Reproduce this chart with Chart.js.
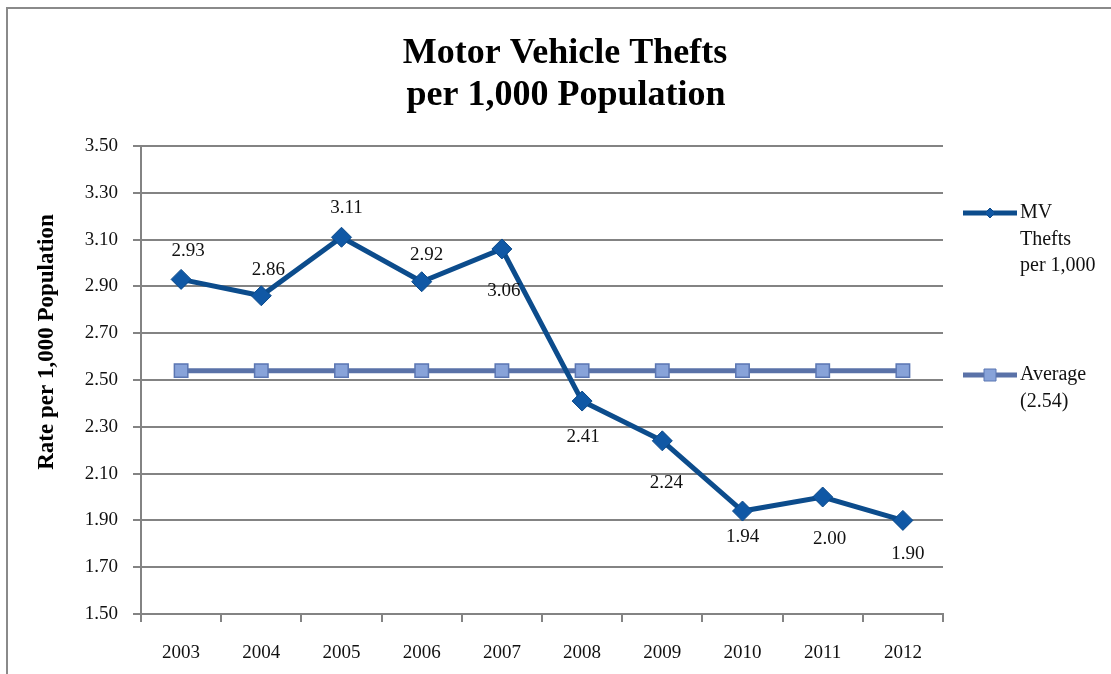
<!DOCTYPE html>
<html>
<head>
<meta charset="utf-8">
<title>Motor Vehicle Thefts per 1,000 Population</title>
<script src="https://cdn.jsdelivr.net/npm/chart.js@4.4.1/dist/chart.umd.min.js"></script>
<style>
  html, body { margin: 0; padding: 0; background: #ffffff; }
  #wrap { width: 1111px; height: 674px; position: relative; }
</style>
</head>
<body>
<div id="wrap"><canvas id="chart" width="1111" height="674"></canvas></div>
<script>
// Yearly motor vehicle theft rate and its ten-year average
const years = ['2003', '2004', '2005', '2006', '2007', '2008', '2009', '2010', '2011', '2012'];
const theftRate = [2.93, 2.86, 3.11, 2.92, 3.06, 2.41, 2.24, 1.94, 2.00, 1.90];
const averageRate = [2.54, 2.54, 2.54, 2.54, 2.54, 2.54, 2.54, 2.54, 2.54, 2.54];
const averageValue = 2.54;
const titleLines = ['Motor Vehicle Thefts', 'per 1,000 Population'];
const yAxisTitle = 'Rate per 1,000 Population';
const theftLegend = ['MV', 'Thefts', 'per 1,000'];
const averageLegend = ['Average', '(' + averageValue.toFixed(2) + ')'];

// Where each value label sits relative to its point (pixels)
const labelShift = [
  [7, -28], [7, -26], [5, -29], [5, -27], [2, 42],
  [1, 36], [4, 42], [0, 26], [7, 42], [5, 34]
];

const SERIF = '"Liberation Serif", "DejaVu Serif", serif';
const GRID = '#838383';
const TEXT = '#111111';

const framePlugin = {
  id: 'frame',
  beforeDraw(chart) {
    const ctx = chart.ctx;
    ctx.save();
    ctx.fillStyle = '#ffffff';
    ctx.fillRect(0, 0, chart.width, chart.height);
    ctx.strokeStyle = '#8a8a8a';
    ctx.lineWidth = 2;
    ctx.strokeRect(7, 8, chart.width + 20, chart.height + 20);
    ctx.restore();
  }
};

const textPlugin = {
  id: 'texts',
  afterDraw(chart) {
    const ctx = chart.ctx;
    ctx.save();
    // Title
    ctx.fillStyle = '#000000';
    ctx.textAlign = 'center';
    ctx.textBaseline = 'alphabetic';
    ctx.font = 'bold 36px ' + SERIF;
    ctx.fillText(titleLines[0], 565, 63);
    ctx.fillText(titleLines[1], 566, 105);

    // Vertical axis title
    ctx.save();
    ctx.translate(47, 342);
    ctx.rotate(-Math.PI / 2);
    ctx.font = 'bold 23px ' + SERIF;
    ctx.textBaseline = 'middle';
    ctx.fillText(yAxisTitle, 0, 0);
    ctx.restore();

    // Value labels on the theft series
    const meta = chart.getDatasetMeta(0);
    ctx.font = '19px ' + SERIF;
    ctx.fillStyle = TEXT;
    ctx.textBaseline = 'middle';
    meta.data.forEach((pt, i) => {
      const s = labelShift[i];
      ctx.fillText(theftRate[i].toFixed(2), pt.x + s[0], pt.y + s[1]);
    });

    // Legend on the right
    const lx0 = 963, lx1 = 1017, tx = 1020;
    const drawEntry = (ds, y, lines, lineGap) => {
      ctx.strokeStyle = ds.borderColor;
      ctx.lineWidth = ds.borderWidth;
      ctx.beginPath();
      ctx.moveTo(lx0, y);
      ctx.lineTo(lx1, y);
      ctx.stroke();
      ctx.fillStyle = ds.pointBackgroundColor;
      ctx.strokeStyle = ds.pointBorderColor;
      ctx.lineWidth = 1;
      const cx = (lx0 + lx1) / 2;
      ctx.beginPath();
      if (ds.pointStyle === 'rectRot') {
        ctx.moveTo(cx, y - 5); ctx.lineTo(cx + 5, y); ctx.lineTo(cx, y + 5); ctx.lineTo(cx - 5, y);
        ctx.closePath();
      } else {
        ctx.rect(cx - 6, y - 6, 12, 12);
      }
      ctx.fill();
      ctx.stroke();
      ctx.fillStyle = TEXT;
      ctx.font = '20px ' + SERIF;
      ctx.textAlign = 'left';
      ctx.textBaseline = 'middle';
      lines.forEach((t, k) => ctx.fillText(t, tx, y + k * lineGap));
    };
    drawEntry(chart.data.datasets[0], 213, theftLegend, 26.5);
    drawEntry(chart.data.datasets[1], 375, averageLegend, 27);
    ctx.restore();
  }
};

new Chart(document.getElementById('chart'), {
  type: 'line',
  data: {
    labels: years,
    datasets: [
      {
        label: 'MV Thefts per 1,000',
        data: theftRate,
        borderColor: '#0c4c8c',
        borderWidth: 5,
        pointStyle: 'rectRot',
        pointRadius: 10,
        pointHoverRadius: 10,
        pointBackgroundColor: '#1058a5',
        pointBorderColor: '#0b4a8a',
        pointBorderWidth: 1,
        tension: 0,
        order: 1
      },
      {
        label: 'Average (' + averageValue.toFixed(2) + ')',
        data: averageRate,
        borderColor: '#5a72a8',
        borderWidth: 5,
        pointStyle: 'rect',
        pointRadius: 9.5,
        pointHoverRadius: 9.5,
        pointBackgroundColor: '#88a3d9',
        pointBorderColor: '#5b76b2',
        pointBorderWidth: 1.5,
        tension: 0,
        order: 2
      }
    ]
  },
  options: {
    responsive: false,
    animation: false,
    events: [],
    layout: { padding: { top: 146, right: 168, bottom: 10, left: 0 } },
    plugins: {
      legend: { display: false },
      title: { display: false },
      tooltip: { enabled: false }
    },
    scales: {
      x: {
        type: 'category',
        offset: true,
        afterFit(scale) { scale.height = 50; },
        grid: {
          offset: true,
          drawOnChartArea: false,
          drawTicks: true,
          tickLength: 8,
          color: GRID,
          lineWidth: 2
        },
        border: { display: true, color: GRID, width: 2 },
        ticks: {
          color: TEXT,
          font: { family: SERIF, size: 19 },
          padding: 20,
          maxRotation: 0,
          autoSkip: false
        }
      },
      y: {
        min: 1.5,
        max: 3.5,
        afterFit(scale) { scale.width = 141; },
        grid: {
          color: GRID,
          lineWidth: 2,
          drawTicks: true,
          tickLength: 8
        },
        border: { display: true, color: GRID, width: 2 },
        ticks: {
          stepSize: 0.2,
          color: TEXT,
          font: { family: SERIF, size: 19 },
          padding: 15,
          callback: (v) => Number(v).toFixed(2)
        }
      }
    }
  },
  plugins: [framePlugin, textPlugin]
});
</script>
</body>
</html>
